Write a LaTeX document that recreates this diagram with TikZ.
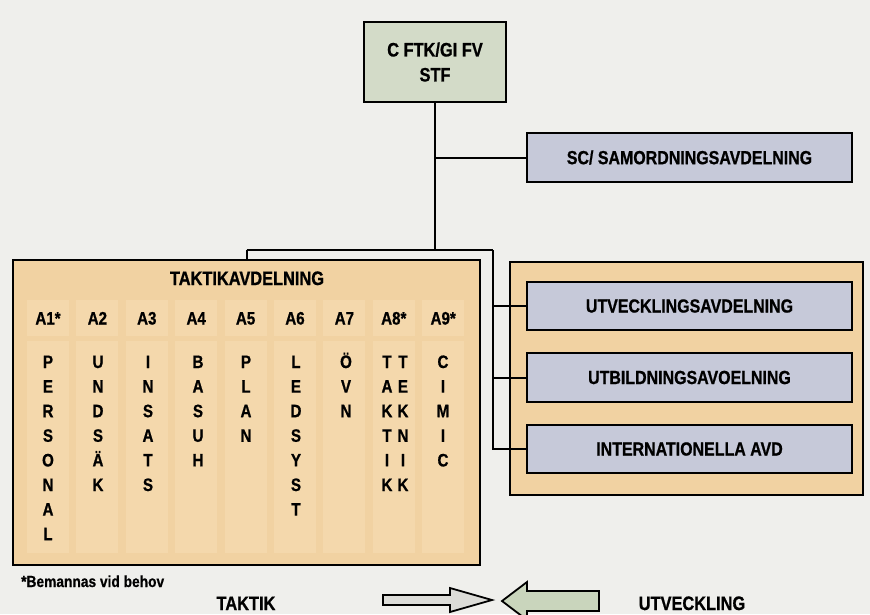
\documentclass[tikz,border=0pt]{standalone}
\usepackage{fontspec}
\setmainfont{Liberation Sans}[FakeStretch=0.84,BoldFeatures={FakeBold=0.8}]
\newfontfamily\footfont{Liberation Sans}[FakeStretch=0.86,BoldFeatures={FakeBold=0.6}]
\definecolor{bgc}{HTML}{EFEFEC}
\definecolor{topc}{HTML}{D3DBC8}
\definecolor{bluec}{HTML}{C6C9D9}
\definecolor{tanc}{HTML}{F1D2A2}
\definecolor{stripc}{HTML}{F4D8AC}
\definecolor{arrg}{HTML}{DCDCD8}
\definecolor{arrgreen}{HTML}{C9D5BC}
\newcommand\colletters[3]{%
  \foreach \l [count=\i] in {#3} {\node[letter] (c#1-\i) at (#2,{368+24.6*(\i-1)}) {\l};}}
\begin{document}
\begin{tikzpicture}[x=1pt,y=-1pt,
  boxe/.style={draw=black,line width=2.6pt,inner sep=0pt,font=\bfseries\fontsize{19}{22}\selectfont},
  conn/.style={line width=2pt,draw=black},
  letter/.style={anchor=base,inner sep=0pt,font=\bfseries\fontsize{18}{20}\selectfont},
  head/.style={anchor=base,inner sep=0pt,font=\bfseries\fontsize{18}{20}\selectfont},
  strip/.style={fill=stripc,draw=none}]
\useasboundingbox[fill=bgc] (0,0) rectangle (870,614);
% top
\node[boxe,fill=topc,minimum width=142pt,minimum height=80pt,align=center,font=\bfseries\fontsize{19.5}{25}\selectfont] (top) at (435,62) {C FTK/GI FV\\STF};
\node[boxe,fill=bluec,minimum width=325pt,minimum height=49pt] (sc) at (689.5,157.5) {SC/ SAMORDNINGSAVDELNING};
% taktik block
\node[boxe,fill=tanc,minimum width=467pt,minimum height=305pt] (tak) at (246.5,412.5) {};
\foreach \k in {0,...,8} {
  \fill[strip] ({27+49.4*\k},300) rectangle ({69+49.4*\k},336);
  \fill[strip] ({27+49.4*\k},341) rectangle ({69+49.4*\k},553);
}
\node[anchor=base,inner sep=0pt,font=\bfseries\fontsize{19.5}{22}\selectfont] (takt) at (247,285) {TAKTIKAVDELNING};
\foreach \t [count=\k] in {A1*,A2,A3,A4,A5,A6,A7,A8*,A9*} {
  \node[head] (h\k) at ({48+49.4*(\k-1)},324.5) {\t};
}
\colletters{1}{48}{P,E,R,S,O,N,A,L}
\colletters{2}{98}{U,N,D,S,Ä,K}
\colletters{3}{148}{I,N,S,A,T,S}
\colletters{4}{198}{B,A,S,U,H}
\colletters{5}{246}{P,L,A,N}
\colletters{6}{296}{L,E,D,S,Y,S,T}
\colletters{7}{346}{Ö,V,N}
\colletters{8a}{387}{T,A,K,T,I,K}
\colletters{8b}{403}{T,E,K,N,I,K}
\colletters{9}{443}{C,I,M,I,C}
% right block
\node[boxe,fill=tanc,minimum width=353pt,minimum height=233pt] (rb) at (686.5,378.5) {};
\node[boxe,fill=bluec,minimum width=325pt,minimum height=48pt] (utv) at (689.5,306) {UTVECKLINGSAVDELNING};
\node[boxe,fill=bluec,minimum width=325pt,minimum height=49pt] (utb) at (689.5,377.5) {UTBILDNINGSAVOELNING};
\node[boxe,fill=bluec,minimum width=325pt,minimum height=48pt] (int) at (689.5,449) {INTERNATIONELLA AVD};
% connectors
\coordinate (j) at (437,250);
\coordinate (jl) at (246.5,250);
\coordinate (jr) at (493,250);
\draw[conn] (top.south) -- (top.south |- j);
\draw[conn] (top.south |- sc.west) -- (sc.west);
\draw[conn] (jl) -- (jr);
\draw[conn] (jl) -- (tak.north);
\draw[conn] (jr) -- (jr |- int.west) -- (int.west);
\draw[conn] (jr |- utv.west) -- (utv.west);
\draw[conn] (jr |- utb.west) -- (utb.west);
% footer
\node[anchor=base west,inner sep=0pt,font=\footfont\bfseries\fontsize{16}{18}\selectfont] (foot) at (21,587) {*Bemannas vid behov};
\node[anchor=base,inner sep=0pt,font=\bfseries\fontsize{19.5}{22}\selectfont] (tk) at (246,610) {TAKTIK};
\node[anchor=base,inner sep=0pt,font=\bfseries\fontsize{19.5}{22}\selectfont] (uv) at (692,610) {UTVECKLING};
\draw[line width=1.8pt,fill=arrg,line join=miter] (383,595) -- (450,595) -- (450,588) -- (492,600) -- (450,612) -- (450,605) -- (383,605) -- cycle;
\draw[line width=1.8pt,fill=arrgreen,line join=miter] (599,591) -- (527,591) -- (527,582) -- (502,601) -- (527,620) -- (527,611) -- (599,611) -- cycle;
\end{tikzpicture}
\end{document}
